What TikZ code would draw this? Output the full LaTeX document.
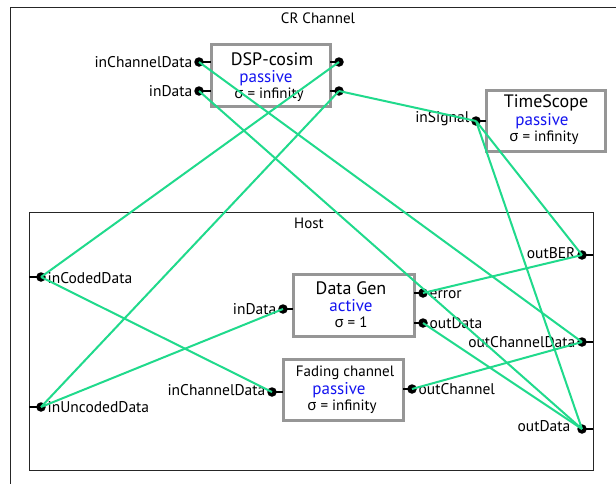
\documentclass[tikz,border=0pt]{standalone}
\usepackage{fontspec}
\setmainfont{PT Sans}
\newfontfamily\grk{Noto Sans}
\newcommand{\sgm}{{\grk σ}}
\definecolor{wire}{RGB}{32,218,140}
\definecolor{boxgray}{RGB}{150,150,150}
\definecolor{stateblue}{RGB}{20,20,240}
\tikzset{
  x=1pt, y=-1pt,
  atomic/.style={draw=boxgray, line width=3pt, fill=white},
  port/.style={circle, fill=black, inner sep=0pt, minimum size=9.5pt},
  stub/.style={line width=1.8pt, black},
  link/.style={wire, line width=2pt},
  plabel/.style={font=\fontsize{15.5}{15.5}\selectfont, inner sep=1.5pt},
  ttl/.style={font=\fontsize{18}{18}\selectfont, inner sep=0pt},
  st/.style={font=\fontsize{17}{17}\selectfont, text=stateblue, inner sep=0pt},
  sig/.style={font=\fontsize{15}{15}\selectfont, inner sep=0pt},
  fct/.style={font=\fontsize{15}{15}\selectfont, inner sep=0pt},
  cpl/.style={font=\fontsize{15}{15}\selectfont, inner sep=0pt},
}
\begin{document}
\begin{tikzpicture}
\useasboundingbox (0,0) rectangle (616,483);
\fill[white] (0,0) rectangle (616,483);
\begin{scope}
\clip (0,0) rectangle (616,483);
% coupled model CR Channel
\draw[line width=1pt, black!85] (10,7) rectangle (640,500);
\end{scope}
\node[cpl] (crt) at (318,18) {CR Channel};

% coupled model Host
\draw[line width=1pt, black!85] (29,212) rectangle (593,470);
\node[cpl] (hostt) at (309,223) {Host};

% ---------- DSP-cosim ----------
\draw[atomic] (211,44) rectangle (330,106);
\node[ttl] (dspt) at (272,59.5) {DSP-cosim};
\node[st] (dsps) at (266,78) {passive};
\node[sig] (dspg) at (269,94.5) {\sgm{} = infinity};
\draw[stub] (199,62) -- (211,62);
\draw[stub] (199,91) -- (211,91);
\draw[stub] (330,62) -- (339,62);
\draw[stub] (330,91) -- (339,91);
\node[port] (dspInCh) at (199,62) {};
\node[port] (dspIn) at (199,91) {};
\node[port] (dspOutA) at (339,62) {};
\node[port] (dspOutB) at (339,91) {};
\node[plabel, anchor=east] (l1) at (dspInCh.west) {inChannelData};
\node[plabel, anchor=east] (l2) at (dspIn.west) {inData};

% ---------- TimeScope ----------
\draw[atomic] (486,90) rectangle (605,151);
\node[ttl] (tst) at (546,103) {TimeScope};
\node[st] (tss) at (542,121) {passive};
\node[sig] (tsg) at (544,137.5) {\sgm{} = infinity};
\draw[stub] (476,121) -- (486,121);
\node[port] (tsIn) at (476,121) {};
\node[plabel, anchor=east] (l3) at ([yshift=2pt]tsIn.west) {inSignal};

% ---------- Data Gen ----------
\draw[atomic] (293,274) rectangle (414,336);
\node[ttl] (dgt) at (351,288) {Data Gen};
\node[st] (dgs) at (351,306) {active};
\node[sig] (dgg) at (351,322.5) {\sgm{} = 1};
\draw[stub] (283,309) -- (293,309);
\draw[stub] (414,293) -- (423,293);
\draw[stub] (414,323) -- (423,323);
\node[port] (dgIn) at (283,309) {};
\node[port] (dgErr) at (423,293) {};
\node[port] (dgOut) at (423,323) {};
\node[plabel, anchor=east] (l4) at (dgIn.west) {inData};
\node[plabel, anchor=west] (l5) at ([yshift=-2pt]dgErr.east) {error};
\node[plabel, anchor=west] (l6) at (dgOut.east) {outData};

% ---------- Fading channel ----------
\draw[atomic] (283,359) rectangle (403,420);
\node[fct] (fct) at (345,373) {Fading channel};
\node[st] (fcs) at (339,390.5) {passive};
\node[sig] (fcg) at (342,407) {\sgm{} = infinity};
\draw[stub] (272,392) -- (283,392);
\draw[stub] (403,389) -- (412,389);
\node[port] (fcIn) at (272,392) {};
\node[port] (fcOut) at (412,389) {};
\node[plabel, anchor=east] (l7) at ([yshift=2pt]fcIn.west) {inChannelData};
\node[plabel, anchor=west] (l8) at (fcOut.east) {outChannel};

% ---------- Host ports ----------
\draw[stub] (29,277) -- (41,277);
\draw[stub] (29,407) -- (41,407);
\draw[stub] (582,255) -- (593,255);
\draw[stub] (582,342) -- (593,342);
\draw[stub] (582,429) -- (593,429);
\node[port] (hInCod) at (41,277) {};
\node[port] (hInUnc) at (41,407) {};
\node[port] (hBER) at (582,255) {};
\node[port] (hOutCh) at (582,342) {};
\node[port] (hOut) at (582,429) {};
\node[plabel, anchor=west] (l9) at ([yshift=-1pt]hInCod.east) {inCodedData};
\node[plabel, anchor=west] (l10) at (hInUnc.east) {inUncodedData};
\node[plabel, anchor=east] (l11) at ([yshift=2pt]hBER.west) {outBER};
\node[plabel, anchor=east] (l12) at (hOutCh.west) {outChannelData};
\node[plabel, anchor=east] (l13) at ([xshift=-5pt,yshift=3pt]hOut.west) {outData};

% ---------- couplings ----------
\draw[link] (dspInCh.center) -- (hOutCh.center);
\draw[link] (dspIn.center) -- (hOut.center);
\draw[link] (dspOutA.center) -- (hInCod.center);
\draw[link] (dspOutB.center) -- (hInUnc.center);
\draw[link] (dspOutB.center) -- (tsIn.center);
\draw[link] (tsIn.center) -- (hBER.center);
\draw[link] (tsIn.center) -- (hOut.center);
\draw[link] (hInCod.center) -- (fcIn.center);
\draw[link] (hInUnc.center) -- (dgIn.center);
\draw[link] (dgErr.center) -- (hBER.center);
\draw[link] (dgOut.center) -- (hOut.center);
\draw[link] (fcOut.center) -- (hOutCh.center);
\end{tikzpicture}
\end{document}
